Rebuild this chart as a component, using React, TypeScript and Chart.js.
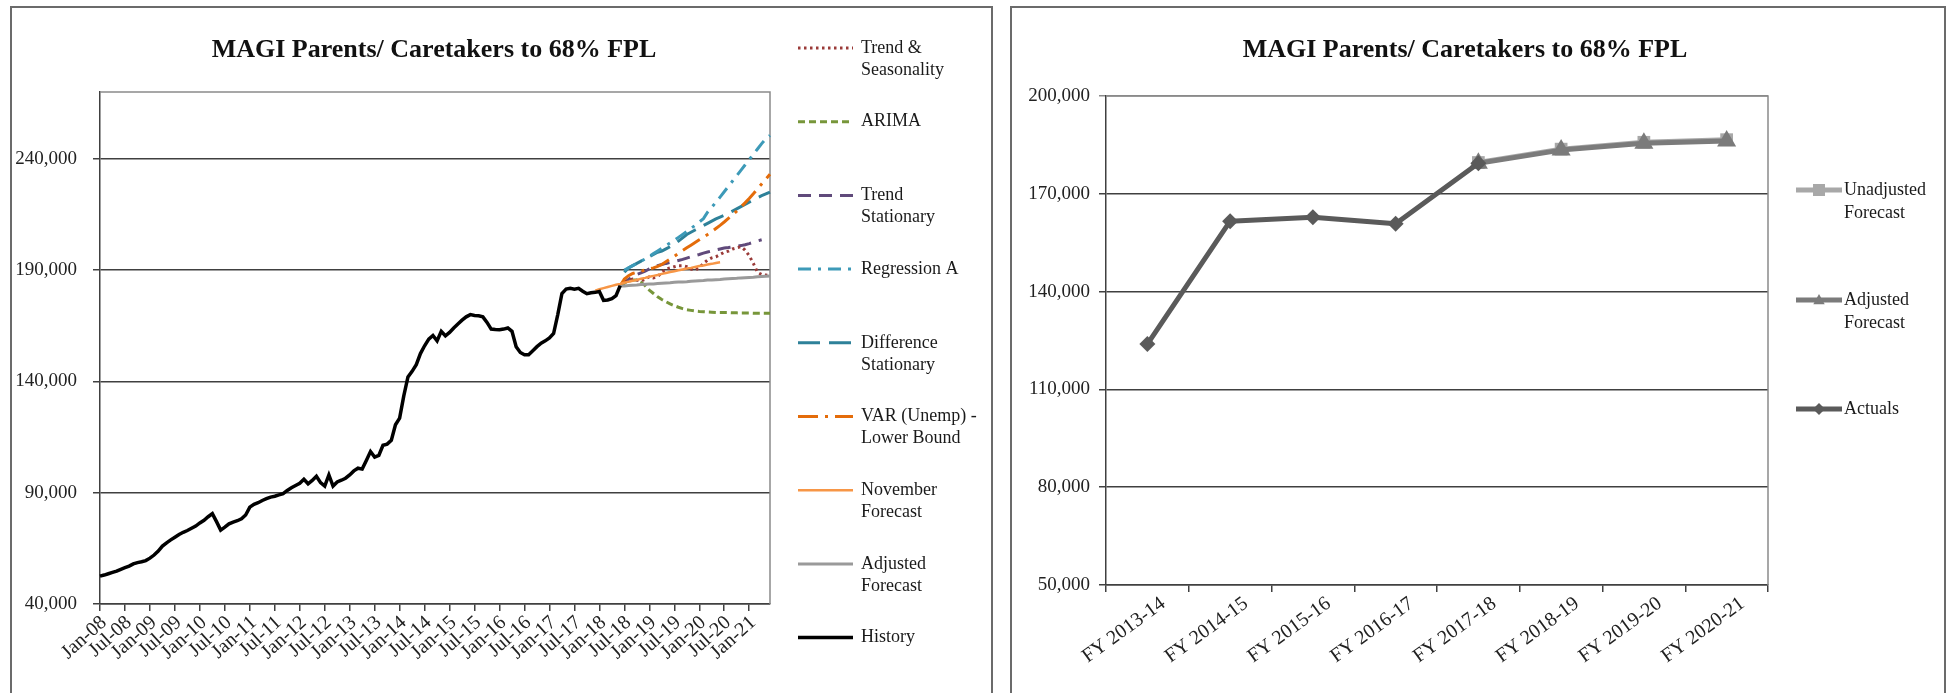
import React, { useEffect, useRef } from 'react';
import { Chart, registerables } from 'chart.js';

Chart.register(...registerables);

const SERIF = "'Liberation Serif', 'Times New Roman', serif";
const TITLE = 'MAGI Parents/ Caretakers to 68% FPL';

// ---------- Left chart: monthly history and forecasts ----------
const monthNames = ['Jan', 'Feb', 'Mar', 'Apr', 'May', 'Jun', 'Jul', 'Aug', 'Sep', 'Oct', 'Nov', 'Dec'];
const yearLabels = ['08', '09', '10', '11', '12', '13', '14', '15', '16', '17', '18', '19', '20', '21'];
const months: string[] = [];
yearLabels.forEach((y) => monthNames.forEach((m) => months.push(`${m}-${y}`)));
const categories = months.slice(0, 162); // Jan-08 .. Jun-21

const history = [
  52500, 53000, 53600, 54200, 54800, 55600, 56300, 57000, 58000, 58600, 59000, 59500,
  60600, 62000, 63800, 66000, 67500, 68800, 70000, 71200, 72200, 73000, 74000, 75000,
  76400, 77600, 79200, 80600, 77000, 73200, 74500, 76000, 76800, 77400, 78300, 80000,
  83500, 84800, 85500, 86500, 87300, 88000, 88400, 89000, 89600, 91000, 92200, 93200,
  94200, 96000, 94000, 95500, 97400, 94500, 93000, 98000, 93000, 94800, 95600, 96500,
  98000, 99800, 101000, 100600, 104500, 108500, 106000, 106800, 111300, 111800, 113500, 120500,
  123500, 133500, 142000, 144500, 147500, 152500, 156000, 159000, 160600, 158200, 162500, 160500,
  162000, 164000, 165800, 167500, 169000, 170000, 169600, 169500, 169000, 166500, 163500, 163300,
  163200, 163500, 164000, 162500, 155600, 153000, 152000, 152000, 153800, 155600, 157200, 158200,
  159500, 161500, 170000, 179500, 181500, 181800, 181400, 181800, 180500, 179400, 179800, 180000,
  180400, 176400, 176600, 177200, 178500, 183000,
];

const trendSeasonalityStart = 125;
const trendSeasonality = [
  183000, 184500, 185500, 186000, 185500, 185000, 186000, 187000, 186500, 187000,
  189000, 190500, 191000, 191500, 192000, 192000, 191500, 190500, 190000, 191000,
  193000, 194500, 195500, 196000, 197000, 198000, 198500, 199500, 200000, 200500,
  199000, 196500, 193000, 189000, 188000, 187800, 187600,
];

const arimaStart = 125;
const arima = [
  183000, 184200, 185000, 185500, 185500, 184500, 183000, 181000, 179500, 178000,
  176800, 175800, 174800, 174000, 173300, 172700, 172200, 171900, 171600, 171400,
  171300, 171200, 171100, 171000, 171000, 170900, 170900, 170800, 170800, 170700,
  170700, 170700, 170600, 170600, 170600, 170600, 170600,
];

const trendStationaryStart = 125;
const trendStationary = [
  183000, 184200, 185800, 187000, 188000, 188700, 189500, 190500, 191300, 192000,
  192500, 193000, 193400, 193800, 194300, 194800, 195400, 196000, 196500, 197000,
  197600, 198100, 198600, 199100, 199500, 199900, 200100, 200400, 200700, 201000,
  201400, 201900, 202500, 203100, 203600,
];

const regressionAStart = 126;
const regressionA = [
  190000, 191000, 192000, 193000, 194000, 195000, 196200, 197400, 198600, 199800,
  201000, 202200, 203400, 204700, 206000, 207300, 208700, 210100, 211600, 213100,
  216000, 218200, 220500, 222800, 225200, 227600, 230000, 232400, 234800, 237200,
  239600, 242000, 244400, 246800, 249000, 250500,
];

const differenceStationaryStart = 126;
const differenceStationary = [
  189000, 191000, 192000, 193000, 194000, 195500, 196000, 197000, 198000, 198500,
  199500, 200500, 201500, 203000, 204500, 206000, 207000, 208000, 209000, 210000,
  211000, 212000, 213000, 213800, 214600, 215500, 216500, 217500, 218500, 219500,
  220500, 221500, 222500, 223400, 224200, 225000,
];

const varLowerStart = 125;
const varLower = [
  183000, 186000, 187500, 188500, 189000, 189500, 190000, 190500, 191000, 191700,
  192500, 193800, 195000, 196200, 197500, 198800, 200000, 201200, 202400, 203600,
  204800, 206000, 207300, 208700, 210100, 211600, 213200, 214800, 216500, 218300,
  220200, 222200, 224300, 226500, 228700, 230900, 233000,
];

const novemberStart = 119;
const november = [
  180800, 181400, 181900, 182400, 182900, 183400, 183800, 184300, 184800, 185200,
  185600, 186100, 186500, 187000, 187400, 187800, 188300, 188700, 189100, 189500,
  189900, 190300, 190700, 191000, 191400, 191800, 192100, 192500, 192800, 193200,
  193500,
];

const adjustedStart = 125;
const adjusted = [
  182800, 182900, 183100, 183200, 183300, 183500, 183600, 183700, 183800, 184000,
  184100, 184200, 184300, 184500, 184600, 184700, 184800, 185000, 185100, 185200,
  185300, 185500, 185600, 185700, 185800, 186000, 186100, 186200, 186300, 186500,
  186600, 186700, 186800, 187000, 187100, 187200, 187300,
];

const leftNames = [
  'Trend &\nSeasonality', 'ARIMA', 'Trend\nStationary', 'Regression A',
  'Difference\nStationary', 'VAR (Unemp) -\nLower Bound', 'November\nForecast',
  'Adjusted\nForecast', 'History',
];
const leftYTicks = [40000, 90000, 140000, 190000, 240000];

// ---------- Right chart: fiscal years ----------
const fiscalYears = ['FY 2013-14', 'FY 2014-15', 'FY 2015-16', 'FY 2016-17', 'FY 2017-18', 'FY 2018-19', 'FY 2019-20', 'FY 2020-21'];
const unadjustedForecast = [null, null, null, null, 179600, 183700, 185800, 186600];
const adjustedForecast = [null, null, null, null, 179400, 183400, 185500, 186200];
const actuals = [123900, 161600, 162800, 160800, 179400, null, null, null];
const rightNames = ['Unadjusted\nForecast', 'Adjusted\nForecast', 'Actuals'];

function place(start: number, values: number[]) {
  const out: (number | null)[] = categories.map(() => null);
  values.forEach((v, i) => { out[start + i] = v; });
  return out;
}

const fmt = (v: any) => Number(v).toLocaleString('en-US');

function titlePlugin(cx: number) {
  return {
    id: 'panelTitle',
    afterDraw(chart: any) {
      const ctx = chart.ctx;
      ctx.save();
      ctx.font = `bold 26px ${SERIF}`;
      ctx.fillStyle = '#111';
      ctx.textAlign = 'center';
      ctx.textBaseline = 'middle';
      ctx.fillText(TITLE, cx, 50);
      ctx.restore();
    },
  };
}

const framePlugin = {
  id: 'plotFrame',
  beforeDatasetsDraw(chart: any) {
    const { ctx, chartArea: a } = chart;
    ctx.save();
    ctx.strokeStyle = '#8a8a8a';
    ctx.lineWidth = 1.5;
    ctx.beginPath();
    ctx.moveTo(a.left, a.top);
    ctx.lineTo(a.right, a.top);
    ctx.lineTo(a.right, a.bottom);
    ctx.stroke();
    ctx.restore();
  },
};

function leftLegendPlugin(order: number[]) {
  return {
    id: 'leftLegend',
    afterDraw(chart: any) {
      const ctx = chart.ctx;
      ctx.save();
      order.forEach((dsIndex, i) => {
        const ds = chart.data.datasets[dsIndex];
        const y = 48 + i * 73.7;
        ctx.strokeStyle = ds.borderColor;
        ctx.lineWidth = ds.borderWidth;
        ctx.setLineDash(ds.borderDash || []);
        ctx.beginPath();
        ctx.moveTo(798, y);
        ctx.lineTo(853, y);
        ctx.stroke();
        ctx.setLineDash([]);
        ctx.fillStyle = '#1a1a1a';
        ctx.font = `18px ${SERIF}`;
        ctx.textAlign = 'left';
        ctx.textBaseline = 'middle';
        String(ds.label).split('\n').forEach((line: string, j: number) => {
          ctx.fillText(line, 861, y + j * 22);
        });
      });
      ctx.restore();
    },
  };
}

function drawMarker(ctx: any, style: string, x: number, y: number, r: number) {
  ctx.beginPath();
  if (style === 'rect') {
    ctx.rect(x - r, y - r, 2 * r, 2 * r);
  } else if (style === 'triangle') {
    ctx.moveTo(x, y - r);
    ctx.lineTo(x + r * 0.95, y + r * 0.7);
    ctx.lineTo(x - r * 0.95, y + r * 0.7);
    ctx.closePath();
  } else {
    ctx.moveTo(x, y - r);
    ctx.lineTo(x + r, y);
    ctx.lineTo(x, y + r);
    ctx.lineTo(x - r, y);
    ctx.closePath();
  }
  ctx.fill();
}

const rightLegendPlugin = {
  id: 'rightLegend',
  afterDraw(chart: any) {
    const ctx = chart.ctx;
    ctx.save();
    const ys = [190, 300, 409];
    chart.data.datasets.forEach((ds: any, i: number) => {
      const y = ys[i];
      ctx.strokeStyle = ds.borderColor;
      ctx.lineWidth = 5;
      ctx.beginPath();
      ctx.moveTo(796, y);
      ctx.lineTo(842, y);
      ctx.stroke();
      ctx.fillStyle = ds.borderColor;
      drawMarker(ctx, ds.pointStyle, 819, y, 6);
      ctx.fillStyle = '#1a1a1a';
      ctx.font = `18px ${SERIF}`;
      ctx.textAlign = 'left';
      ctx.textBaseline = 'middle';
      String(ds.label).split('\n').forEach((line: string, j: number) => {
        ctx.fillText(line, 844, y + j * 23);
      });
    });
    ctx.restore();
  },
};

const tickFont = { family: SERIF, size: 19 };
const xTickFont = { family: SERIF, size: 20 };

function leftConfig(): any {
  const datasets = [
    { label: leftNames[0], data: place(trendSeasonalityStart, trendSeasonality), borderColor: '#9a3a38', borderWidth: 3, borderDash: [2.5, 3.5], order: 3 },
    { label: leftNames[1], data: place(arimaStart, arima), borderColor: '#77963a', borderWidth: 3, borderDash: [7, 4], order: 3 },
    { label: leftNames[2], data: place(trendStationaryStart, trendStationary), borderColor: '#604a7b', borderWidth: 3, borderDash: [13, 8], order: 3 },
    { label: leftNames[3], data: place(regressionAStart, regressionA), borderColor: '#3d9ab8', borderWidth: 3, borderDash: [13, 7, 3, 7], order: 3 },
    { label: leftNames[4], data: place(differenceStationaryStart, differenceStationary), borderColor: '#2e8199', borderWidth: 3, borderDash: [22, 9], order: 3 },
    { label: leftNames[5], data: place(varLowerStart, varLower), borderColor: '#e46c0a', borderWidth: 3, borderDash: [20, 7, 3, 7], order: 2 },
    { label: leftNames[6], data: place(novemberStart, november), borderColor: '#f79646', borderWidth: 2.5, order: 1 },
    { label: leftNames[7], data: place(adjustedStart, adjusted), borderColor: '#9a9a9a', borderWidth: 3, order: 1 },
    { label: leftNames[8], data: place(0, history), borderColor: '#000000', borderWidth: 3.5, order: 0 },
  ];
  return {
    type: 'line',
    data: { labels: categories, datasets },
    options: {
      animation: false,
      responsive: false,
      layout: { padding: { top: 92, right: 230, left: 0, bottom: 0 } },
      elements: { point: { radius: 0, hoverRadius: 0 }, line: { tension: 0, borderCapStyle: 'butt' } },
      plugins: { legend: { display: false }, title: { display: false }, tooltip: { enabled: false } },
      scales: {
        x: {
          type: 'category',
          offset: false,
          grid: { display: true, drawOnChartArea: false, drawTicks: true, tickLength: 7, color: '#404040', lineWidth: 1.5 },
          border: { display: true, color: '#404040', width: 1.5 },
          ticks: { autoSkip: false, maxRotation: 42, minRotation: 42, font: xTickFont, color: '#222', padding: 0, labelOffset: 4 },
          afterBuildTicks: (s: any) => { s.ticks = s.ticks.filter((t: any) => t.value % 6 === 0); },
          afterFit: (s: any) => { s.height = 89; },
        },
        y: {
          min: 40000,
          max: 270000,
          ticks: { stepSize: 50000, callback: fmt, font: tickFont, color: '#222', padding: 16 },
          grid: { color: '#404040', lineWidth: 1.5, tickLength: 7 },
          border: { display: true, color: '#404040', width: 1.5 },
          afterBuildTicks: (s: any) => { s.ticks = leftYTicks.map((v) => ({ value: v })); },
          afterFit: (s: any) => { s.width = 100; },
        },
      },
    },
    plugins: [framePlugin, titlePlugin(434), leftLegendPlugin([0, 1, 2, 3, 4, 5, 6, 7, 8])],
  };
}

function rightConfig(): any {
  const datasets = [
    { label: rightNames[0], data: unadjustedForecast, borderColor: '#a8a8a8', backgroundColor: '#a8a8a8', pointStyle: 'rect', pointRadius: 9, order: 2 },
    { label: rightNames[1], data: adjustedForecast, borderColor: '#7b7b7b', backgroundColor: '#7b7b7b', pointStyle: 'triangle', pointRadius: 11, order: 1 },
    { label: rightNames[2], data: actuals, borderColor: '#5a5a5a', backgroundColor: '#5a5a5a', pointStyle: 'rectRot', pointRadius: 8, order: 0 },
  ];
  return {
    type: 'line',
    data: { labels: fiscalYears, datasets },
    options: {
      animation: false,
      responsive: false,
      layout: { padding: { top: 96, right: 184, left: 0, bottom: 0 } },
      elements: {
        point: { borderWidth: 0, hoverRadius: 0 },
        line: { tension: 0, borderWidth: 5, borderJoinStyle: 'round' },
      },
      plugins: { legend: { display: false }, title: { display: false }, tooltip: { enabled: false } },
      scales: {
        x: {
          type: 'category',
          offset: true,
          grid: { display: true, offset: true, drawOnChartArea: false, drawTicks: true, tickLength: 7, color: '#404040', lineWidth: 1.5 },
          border: { display: true, color: '#404040', width: 1.5 },
          ticks: { autoSkip: false, maxRotation: 36, minRotation: 36, font: xTickFont, color: '#222', padding: 0, labelOffset: 16 },
          afterFit: (s: any) => { s.height = 108; },
        },
        y: {
          min: 50000,
          max: 200000,
          ticks: { stepSize: 30000, callback: fmt, font: tickFont, color: '#222', padding: 9 },
          grid: {
            color: (c: any) => (c.tick && c.tick.value === 200000 ? '#8a8a8a' : '#404040'),
            lineWidth: 1.5,
            tickLength: 7,
          },
          border: { display: true, color: '#404040', width: 1.5 },
          afterFit: (s: any) => { s.width = 106; },
        },
      },
    },
    plugins: [framePlugin, titlePlugin(465), rightLegendPlugin],
  };
}

export default function App() {
  const leftRef = useRef<HTMLCanvasElement>(null);
  const rightRef = useRef<HTMLCanvasElement>(null);
  useEffect(() => {
    document.body.style.margin = '0';
    const c1 = new Chart(leftRef.current as HTMLCanvasElement, leftConfig());
    const c2 = new Chart(rightRef.current as HTMLCanvasElement, rightConfig());
    return () => { c1.destroy(); c2.destroy(); };
  }, []);
  return (
    <div style={{ position: 'relative', width: 1952, height: 693, overflow: 'hidden', background: '#fff' }}>
      <div style={{ position: 'absolute', left: 10, top: 6, width: 983, height: 720, border: '2px solid #6b6b6b', boxSizing: 'border-box' }} />
      <div style={{ position: 'absolute', left: 1010, top: 6, width: 936, height: 720, border: '2px solid #6b6b6b', boxSizing: 'border-box' }} />
      <canvas ref={leftRef} width={1000} height={693} style={{ position: 'absolute', left: 0, top: 0 }} />
      <canvas ref={rightRef} width={952} height={693} style={{ position: 'absolute', left: 1000, top: 0 }} />
    </div>
  );
}
